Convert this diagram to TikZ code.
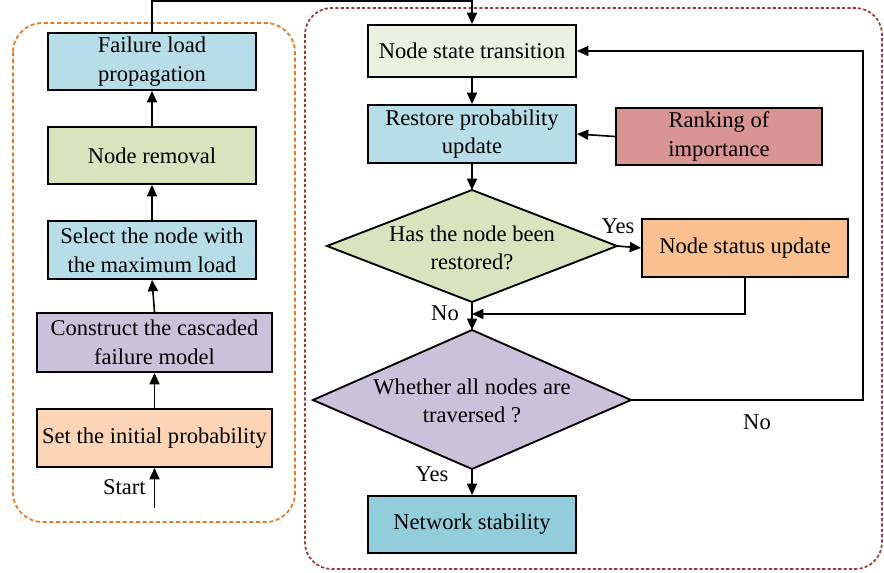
\documentclass[tikz,border=0pt]{standalone}
\usepackage{fontspec}
\setmainfont{Liberation Serif}
\usetikzlibrary{arrows.meta}
\definecolor{cBlue}{HTML}{B7DDE8}
\definecolor{cGreen}{HTML}{D7E4BD}
\definecolor{cLightGreen}{HTML}{EBF1DE}
\definecolor{cPurple}{HTML}{CCC1DA}
\definecolor{cPeach}{HTML}{FBD5B5}
\definecolor{cOrangeFill}{HTML}{FAC090}
\definecolor{cRose}{HTML}{D99594}
\definecolor{cTeal}{HTML}{92CDDC}
\definecolor{cOrangeLine}{HTML}{E87722}
\definecolor{cBrownLine}{HTML}{9B3B36}
\tikzset{
  box/.style={draw=black, line width=1.4pt, inner sep=0pt, align=center,
    font=\fontsize{16.9}{21.5}\selectfont},
  dia/.style={draw=black, line width=1.4pt},
  txt/.style={inner sep=0pt, align=center, font=\fontsize{16.9}{21.5}\selectfont},
  arr/.style={line width=1.2pt, -{Triangle[length=8.5pt,width=7.5pt]}},
  lbl/.style={inner sep=0pt, font=\fontsize{16.9}{20}\selectfont},
  group/.style={line width=1.3pt, dash pattern=on 3pt off 2pt},
}
\begin{document}
\begin{tikzpicture}[x=0.75pt, y=-0.75pt]
\useasboundingbox (0,0) rectangle (884,573);

% grouping frames
\draw[group, draw=cOrangeLine, rounded corners=22pt] (13,23) rectangle (295,522);
\draw[group, draw=cBrownLine, dash pattern=on 2.4pt off 1.6pt, rounded corners=20pt] (305,8) rectangle (882,569);

% left column: cascading failure
\node[box, fill=cBlue, minimum width=156pt, minimum height=42.75pt] (fail) at (152,61.5) {Failure load\\propagation};
\node[box, fill=cGreen, minimum width=156pt, minimum height=42.75pt] (removal) at (152,155.5) {Node removal};
\node[box, fill=cBlue, minimum width=156pt, minimum height=43.5pt] (select) at (152,250) {Select the node with\\the maximum load};
\node[box, fill=cPurple, minimum width=176.25pt, minimum height=44.25pt] (construct) at (154.5,342.5) {Construct the cascaded\\failure model};
\node[box, fill=cPeach, minimum width=176.25pt, minimum height=43.5pt] (setp) at (154.5,438) {Set the initial probability};
\coordinate (start) at (154.5,508);
\node[lbl, anchor=east] (startlbl) at (146,487) {Start};

\draw[arr] (start) -- (setp.south);
\draw[arr] (setp.north) -- (construct.south);
\draw[arr] (construct.north) -- (select.south);
\draw[arr] (select.north) -- (removal.south);
\draw[arr] (removal.north) -- (fail.south);

% right column: recovery
\node[box, fill=cLightGreen, minimum width=156pt, minimum height=39pt] (nst) at (472,51) {Node state transition};
\node[box, fill=cBlue, minimum width=156pt, minimum height=43.5pt] (rpu) at (472,134) {Restore probability\\update};
\node[box, fill=cRose, minimum width=154.5pt, minimum height=42.75pt] (rank) at (719,136.5) {Ranking of\\importance};
\node[box, fill=cOrangeFill, minimum width=154.5pt, minimum height=43.5pt] (nsu) at (745,248) {Node status update};
\node[box, fill=cTeal, minimum width=156pt, minimum height=42.75pt] (ns) at (472,524.5) {Network stability};

% decision 1
\coordinate (d1t) at (472,190);
\coordinate (d1r) at (617,246);
\coordinate (d1b) at (472,302);
\coordinate (d1l) at (327,246);
\draw[dia, fill=cGreen] (d1t) -- (d1r) -- (d1b) -- (d1l) -- cycle;
\node[txt] (d1) at (472,248) {Has the node been\\restored?};

% decision 2
\coordinate (d2t) at (472,330);
\coordinate (d2r) at (631,400);
\coordinate (d2b) at (472,469);
\coordinate (d2l) at (313,400);
\draw[dia, fill=cPurple] (d2t) -- (d2r) -- (d2b) -- (d2l) -- cycle;
\node[txt] (d2) at (472,401) {Whether all nodes are\\traversed ?};

\coordinate (merge) at (472,314);
\coordinate (loopr) at (863,400);

% connectors
\draw[arr] (fail.north) -- ++(0,-31) -| (nst.north);
\draw[arr] (nst.south) -- (rpu.north);
\draw[arr] (rank.west) -- (rpu.east);
\draw[arr] (rpu.south) -- (d1t);
\draw[arr] (d1r) -- (nsu.west);
\draw[arr] (nsu.south) |- (merge);
\draw[arr] (d1b) -- (d2t);
\draw[arr] (d2r) -- (loopr) |- (nst.east);
\draw[arr] (d2b) -- (ns.north);

% branch labels
\node[lbl] (yes1) at (618,226) {Yes};
\node[lbl] (no1) at (445,313) {No};
\node[lbl] (no2) at (757,422) {No};
\node[lbl] (yes2) at (432,474) {Yes};
\end{tikzpicture}
\end{document}
